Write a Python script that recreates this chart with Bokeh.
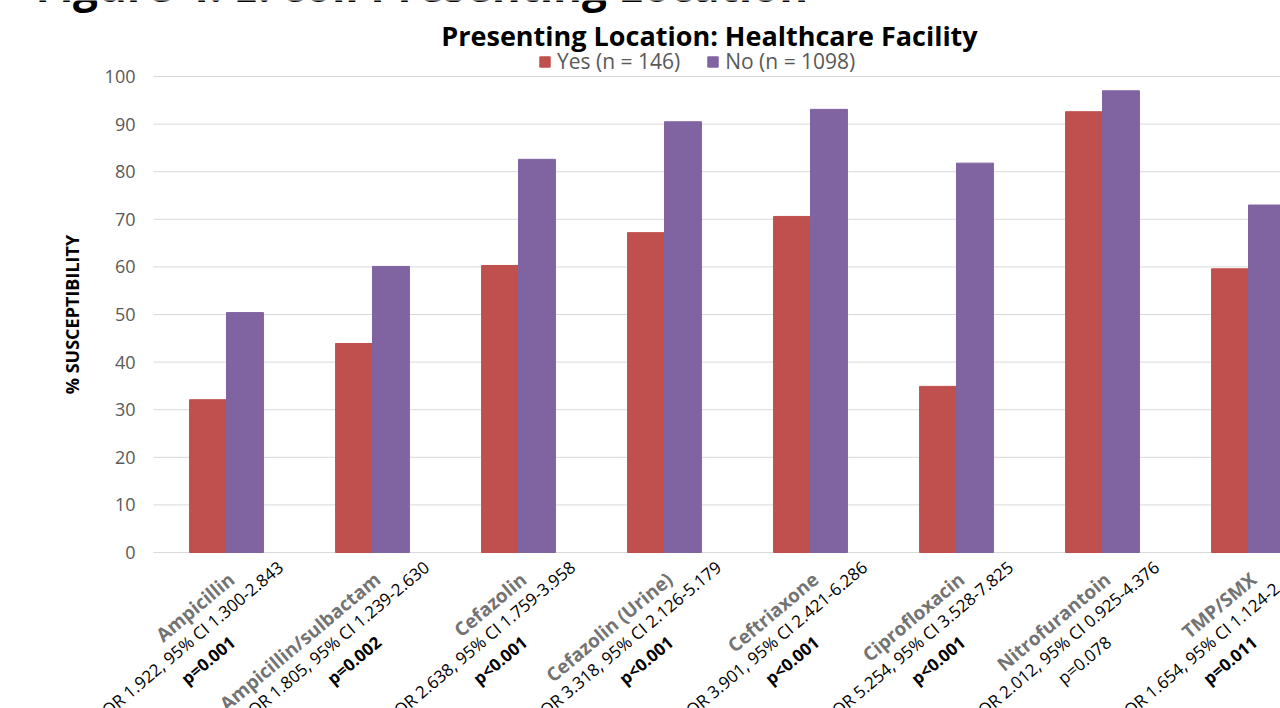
import numpy as np
from bokeh.plotting import figure
from bokeh.models import (ColumnDataSource, Range1d, FixedTicker, LabelSet, Label,
                          Legend, LegendItem)
from bokeh.core.properties import value
from bokeh.embed import file_html
from bokeh.resources import INLINE

# ---- data -------------------------------------------------------------
drugs = ["Ampicillin", "Ampicillin/sulbactam", "Cefazolin", "Cefazolin (Urine)",
         "Ceftriaxone", "Ciprofloxacin", "Nitrofurantoin", "TMP/SMX"]
or_lines = ["OR 1.922, 95% CI 1.300-2.843", "OR 1.805, 95% CI 1.239-2.630",
            "OR 2.638, 95% CI 1.759-3.958", "OR 3.318, 95% CI 2.126-5.179",
            "OR 3.901, 95% CI 2.421-6.286", "OR 5.254, 95% CI 3.528-7.825",
            "OR 2.012, 95% CI 0.925-4.376", "OR 1.654, 95% CI 1.124-2.434"]
p_lines = ["p=0.001", "p=0.002", "p<0.001", "p<0.001",
           "p<0.001", "p<0.001", "p=0.078", "p=0.011"]
p_significant = [True, True, True, True, True, True, False, True]
yes_pct = [32.1, 43.9, 60.3, 67.2, 70.6, 34.9, 92.6, 59.6]
no_pct = [50.4, 60.1, 82.6, 90.5, 93.1, 81.8, 97.0, 73.0]
y_ticks = [0, 10, 20, 30, 40, 50, 60, 70, 80, 90, 100]
series_names = ["Yes (n = 146)", "No (n = 1098)"]
main_title = "Presenting Location: Healthcare Facility"
figure_title = "Figure 4: E. coli Presenting Location"

RED = "#C0504D"
PURPLE = "#8064A2"
GRID = "#D9D9D9"
FONT_NAME = "Open Sans"
FONT = value(FONT_NAME)

W, H = 1280, 708
# plotting area: left edge at 153 px, one category every 146 px,
# 0 % at 552 px and 100 % at 76 px (the frame spans the whole canvas so
# that the slanted labels and titles around the bars are not clipped)
PLOT_LEFT, CAT_PX = 153, 146
ZERO_PX, HUNDRED_PX = 552, 76
px_per_pct = (ZERO_PX - HUNDRED_PX) / 100
x_lo = -0.5 - PLOT_LEFT / CAT_PX
x_hi = -0.5 + (W - PLOT_LEFT) / CAT_PX
y_hi = 100 + HUNDRED_PX / px_per_pct
y_lo = -(H - ZERO_PX) / px_per_pct

idx = np.arange(len(drugs))
BAR_W = 0.253

src = ColumnDataSource(dict(
    x=idx, x_yes=idx - BAR_W / 2, x_no=idx + BAR_W / 2,
    yes=yes_pct, no=no_pct, drug=drugs, odds=or_lines, pval=p_lines,
))
sig = [i for i, s in enumerate(p_significant) if s]
nonsig = [i for i, s in enumerate(p_significant) if not s]
src_sig = ColumnDataSource(dict(x=idx[sig], pval=[p_lines[i] for i in sig]))
src_ns = ColumnDataSource(dict(x=idx[nonsig], pval=[p_lines[i] for i in nonsig]))

# ---- figure -----------------------------------------------------------
p = figure(width=W, height=H, output_backend="svg", toolbar_location=None,
           x_range=Range1d(x_lo, x_hi), y_range=Range1d(y_lo, y_hi),
           x_axis_location=None,
           min_border_left=0, min_border_right=0,
           min_border_top=0, min_border_bottom=0)
p.outline_line_color = None
p.background_fill_color = "white"
p.border_fill_color = "white"
p.xgrid.grid_line_color = None
p.ygrid.grid_line_color = None

# horizontal gridlines across the plotting area only
p.segment(x0=-0.5, x1=x_hi, y0=y_ticks, y1=y_ticks,
          line_color=GRID, line_width=1)

ticker = FixedTicker(ticks=y_ticks)
p.yaxis.ticker = ticker
p.yaxis.fixed_location = -0.5
p.yaxis.bounds = (y_ticks[0], y_ticks[-1])
p.yaxis.axis_line_color = None
p.yaxis.major_tick_line_color = None
p.yaxis.minor_tick_line_color = None
p.yaxis.major_tick_out = 0
p.yaxis.major_tick_in = 0
p.yaxis.minor_tick_out = 0
p.yaxis.major_label_standoff = 18
p.yaxis.major_label_text_font = FONT_NAME
p.yaxis.major_label_text_font_size = "18px"
p.yaxis.major_label_text_color = "#595959"
p.yaxis.axis_label = "% SUSCEPTIBILITY"
p.yaxis.axis_label_text_font = FONT_NAME
p.yaxis.axis_label_text_font_size = "18px"
p.yaxis.axis_label_text_font_style = "bold"
p.yaxis.axis_label_text_color = "#000000"
p.yaxis.axis_label_standoff = 18

r_yes = p.vbar(x="x_yes", top="yes", width=BAR_W, source=src,
               fill_color=RED, line_color=RED)
r_no = p.vbar(x="x_no", top="no", width=BAR_W, source=src,
              fill_color=PURPLE, line_color=PURPLE)

# ---- rotated category labels (three lines each) -------------------------
ANG = 40
common = dict(y=0, angle=ANG, angle_units="deg", text_align="right",
              text_baseline="middle", text_font=FONT)
p.add_layout(LabelSet(x="x", text="drug", source=src, x_offset=5, y_offset=-24,
                      text_font_size="19px", text_font_style="bold",
                      text_color="#737373", **common))
p.add_layout(LabelSet(x="x", text="odds", source=src, x_offset=54, y_offset=-12,
                      text_font_size="17px", text_color="#000000", **common))
p.add_layout(LabelSet(x="x", text="pval", source=src_sig, x_offset=6, y_offset=-87,
                      text_font_size="17px", text_font_style="bold",
                      text_color="#000000", **common))
p.add_layout(LabelSet(x="x", text="pval", source=src_ns, x_offset=6, y_offset=-87,
                      text_font_size="17px", text_color="#000000", **common))

# ---- titles (screen units from the bottom-left corner) ------------------
p.add_layout(Label(x=35, y=H + 16, x_units="screen", y_units="screen",
                   text=figure_title, text_font=FONT_NAME, text_font_size="44px",
                   text_font_style="bold", text_color="#000000",
                   text_align="left", text_baseline="alphabetic"))
p.add_layout(Label(x=709, y=H - 35, x_units="screen", y_units="screen",
                   text=main_title, text_font=FONT_NAME, text_font_size="27px",
                   text_font_style="bold", text_color="#000000",
                   text_align="center", text_baseline="middle"))

# ---- legend -------------------------------------------------------------
legend = Legend(items=[LegendItem(label=series_names[0], renderers=[r_yes]),
                       LegendItem(label=series_names[1], renderers=[r_no])],
                orientation="horizontal", location=(538, H - 75),
                glyph_width=13, glyph_height=13, label_standoff=6, spacing=26,
                padding=0, margin=0, label_height=18,
                label_text_font=FONT_NAME, label_text_font_size="21px",
                label_text_color="#595959", label_text_baseline="middle",
                background_fill_alpha=0, border_line_alpha=0)
p.add_layout(legend)

open("out.html", "w").write(file_html(p, INLINE))
